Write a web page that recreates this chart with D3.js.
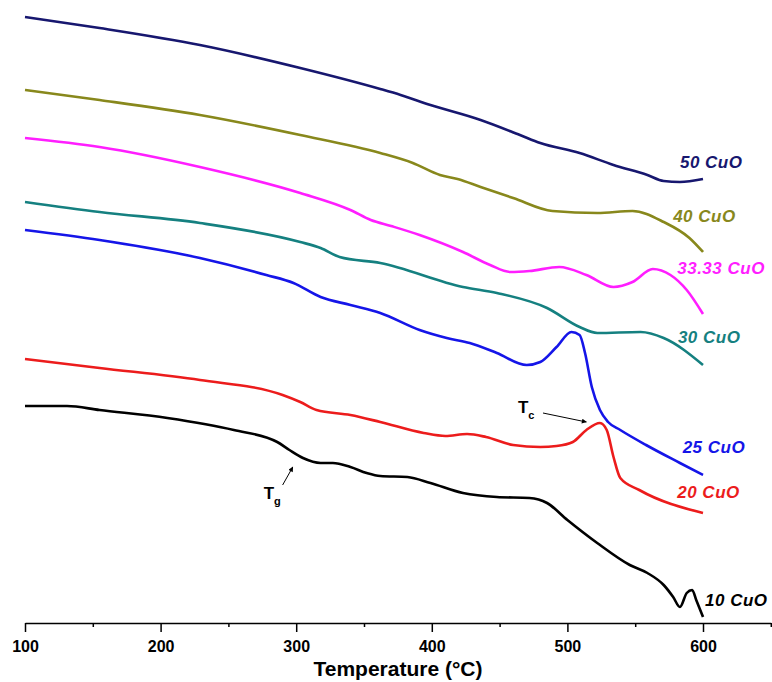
<!DOCTYPE html>
<html>
<head>
<meta charset="utf-8">
<script src="https://cdn.jsdelivr.net/npm/d3@7"></script>
<style>
  body { margin: 0; background: #fff; }
  .tick text { font-family: "Liberation Sans", Arial, sans-serif; font-weight: bold; }
  .curveLabel { font-family: "Liberation Sans", Arial, sans-serif; font-weight: bold; font-style: italic; font-size: 17px; letter-spacing: 0.5px; }
  .annot { font-family: "Liberation Sans", Arial, sans-serif; font-weight: bold; }
</style>
</head>
<body>
<div id="dsc"></div>
<script>
// DSC traces, [temperature °C, heat flow (a.u.)]
const cuo50 = [[100,606],[155,595],[229,578],[303,555],[362,534],[377,528],[399,518],[436,503],[465,488],[480,480],[509,470],[534,458],[559,448],[571,442],[583,441],[600,444]];
const cuo40 = [[100,533],[155,523],[229,508],[303,488],[362,470],[386,460],[406,448],[419,444],[436,436],[460,425],[489,412],[522,410],[548,412],[571,401],[590,385],[600,371]];
const cuo3333 = [[100,485],[155,476],[229,456],[303,430],[340,413],[355,403],[370,397],[391,388],[423,371],[443,358],[458,351],[472,352],[494,356],[514,348],[534,336],[548,341],[563,354],[576,348],[588,333],[600,309]];
const cuo30 = [[100,421],[155,411],[229,400],[303,381],[318,375],[332,366],[362,360],[423,336],[448,330],[485,315],[509,296],[522,290],[554,291],[571,285],[600,258]];
const cuo25 = [[100,393],[155,383],[229,365],[278,348],[298,340],[318,326],[340,318],[362,310],[391,293],[411,285],[428,280],[448,270],[470,258],[480,261],[492,276],[503,291],[509,288],[513,270],[518,236],[524,213],[530,201],[539,193],[558,178],[583,160],[600,148]];
const cuo20 = [[100,264],[155,255],[229,243],[290,228],[303,221],[315,213],[340,208],[362,201],[394,190],[410,187],[426,189],[440,186],[460,178],[480,176],[492,177],[504,181],[514,193],[524,200],[529,193],[534,166],[539,145],[553,133],[600,110]];
const cuo10 = [[100,217],[131,217],[155,213],[205,205],[254,193],[286,181],[295,173],[305,165],[318,160],[327,160],[340,156],[352,150],[362,147],[382,146],[399,140],[423,130],[448,126],[472,125],[485,120],[500,103],[522,80],[546,58],[559,50],[571,38],[578,26],[583,16],[588,30],[592,33],[595,23],[600,6]];

const seriesNames = ["50 CuO", "40 CuO", "33.33 CuO", "30 CuO", "25 CuO", "20 CuO", "10 CuO"];
const seriesData = [cuo50, cuo40, cuo3333, cuo30, cuo25, cuo20, cuo10];
const xTicks = [100, 200, 300, 400, 500, 600];

const colors = ["#17176f", "#88881c", "#ff1eff", "#158080", "#1515e8", "#ec1c1c", "#000000"];
// label anchor in data units (temperature, heat flow)
const labelPos = [[583,455], [578,401], [581,349], [581.5,280], [585,170], [581,125], [601.5,17]];

let width = 772, height = 682;
let margin = {left: 25, right: 0, top: 0, bottom: 59};

let svg = d3.select("#dsc")
    .append("svg")
    .attr("width", width)
    .attr("height", height);

let x = d3.scaleLinear()
    .domain([100, 650])
    .range([margin.left, margin.left + 550 * 1.356]);

let y = d3.scaleLinear()
    .domain([0, 623])
    .range([height - margin.bottom, 0]);

// x axis, major ticks every 100, minor every 50
let axisY = height - margin.bottom;
svg.append("g")
    .attr("transform", `translate(0, ${axisY})`)
    .call(d3.axisBottom(x).tickValues(d3.range(150, 700, 100)).tickSize(4).tickFormat(""))
    .call(g => g.select(".domain").remove())
    .call(g => g.selectAll("line").attr("stroke-width", 1.5));

svg.append("g")
    .attr("transform", `translate(0, ${axisY})`)
    .call(d3.axisBottom(x).tickValues(xTicks).tickSize(9).tickSizeOuter(0).tickPadding(9))
    .call(g => g.select(".domain").attr("stroke-width", 1.6))
    .call(g => g.selectAll("line").attr("stroke-width", 1.5))
    .call(g => g.selectAll("text").attr("font-size", 16).attr("fill", "#000"));

svg.append("text")
    .attr("class", "annot")
    .attr("x", 398)
    .attr("y", 676)
    .attr("text-anchor", "middle")
    .attr("font-size", 21)
    .text("Temperature (°C)");

// curves
let line = d3.line()
    .x(d => x(d[0]))
    .y(d => y(d[1]))
    .curve(d3.curveMonotoneX);

svg.selectAll(".trace")
    .data(seriesData)
    .join("path")
    .attr("class", "trace")
    .attr("fill", "none")
    .attr("stroke", (d, i) => colors[i])
    .attr("stroke-width", 2.6)
    .attr("stroke-linejoin", "round")
    .attr("d", line);

svg.selectAll(".curveLabel")
    .data(seriesNames)
    .join("text")
    .attr("class", "curveLabel")
    .attr("x", (d, i) => x(labelPos[i][0]))
    .attr("y", (d, i) => y(labelPos[i][1]))
    .attr("fill", (d, i) => colors[i])
    .text(d => d);

// Tg and Tc annotations
svg.append("defs").append("marker")
    .attr("id", "arrow")
    .attr("viewBox", "0 0 10 10")
    .attr("refX", 9).attr("refY", 5)
    .attr("markerWidth", 7).attr("markerHeight", 5)
    .attr("orient", "auto")
    .append("path")
    .attr("d", "M0,0 L10,5 L0,10 z")
    .attr("fill", "#000");

function annotate(label, sub, tx, ty, from, to) {
    let t = svg.append("text").attr("class", "annot")
        .attr("x", x(tx)).attr("y", y(ty)).attr("font-size", 17);
    t.append("tspan").text(label);
    t.append("tspan").attr("font-size", 11).attr("dy", 6).text(sub);
    svg.append("line")
        .attr("x1", x(from[0])).attr("y1", y(from[1]))
        .attr("x2", x(to[0])).attr("y2", y(to[1]))
        .attr("stroke", "#000").attr("stroke-width", 1)
        .attr("marker-end", "url(#arrow)");
}
annotate("T", "g", 276, 124, [290, 138], [297.5, 156]);
annotate("T", "c", 463.5, 210, [482, 210], [514, 201]);
</script>
</body>
</html>
